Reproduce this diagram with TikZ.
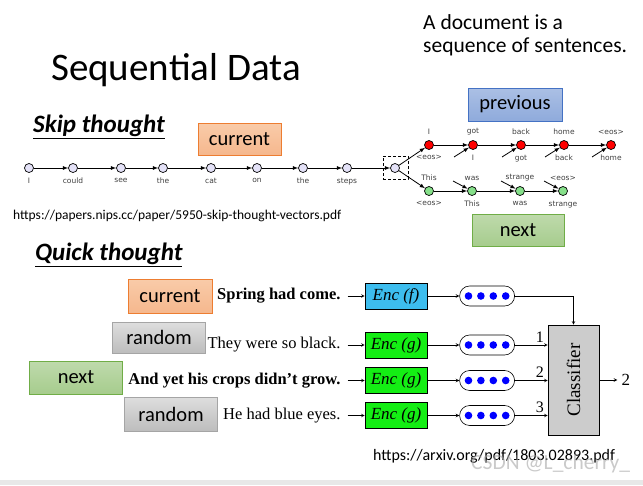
\documentclass[tikz,border=0pt]{standalone}
\usepackage{fontspec}
\setmainfont{Carlito}
\newfontfamily\timesfont{Liberation Serif}
\newfontfamily\dejafont{DejaVu Sans}
\usetikzlibrary{shapes.geometric, arrows, positioning}
\definecolor{morange}{HTML}{ED7D31}
\definecolor{mblue}{HTML}{4472C4}
\definecolor{mgreen}{HTML}{70AD47}
\definecolor{mgray}{HTML}{A5A5A5}
\definecolor{mlav}{HTML}{E4E2F8}
\definecolor{mlgreen}{HTML}{86E08A}
\definecolor{mcyan}{HTML}{3DBDEE}
\definecolor{menc}{HTML}{14EE14}
\tikzstyle{tag} = [rectangle, minimum width=93pt, minimum height=32pt, inner sep=0pt, text centered, line width=0.8pt, font=\fontsize{20.5}{24}\selectfont]
\tikzstyle{curtag} = [tag, minimum width=83pt, draw=morange, top color=orange!20!morange!40, bottom color=morange!55]
\tikzstyle{prevtag} = [tag, draw=mblue, top color=mblue!45, bottom color=mblue!60]
\tikzstyle{nexttag} = [tag, draw=mgreen, top color=mgreen!45, bottom color=mgreen!62]
\tikzstyle{randtag} = [tag, draw=mgray, top color=black!13, bottom color=black!26]
\tikzstyle{head} = [anchor=west, inner sep=0pt, font=\fontsize{25}{28}\selectfont\bfseries\itshape]
\tikzstyle{link} = [anchor=west, inner sep=0pt, font=\fontsize{13.5}{16}\selectfont]
\tikzstyle{wnode} = [circle, draw, line width=0.7pt, inner sep=0pt, minimum size=9pt, fill=mlav]
\tikzstyle{rnode} = [wnode, fill=red]
\tikzstyle{gnode} = [wnode, fill=mlgreen]
\tikzstyle{word} = [inner sep=0pt, text=black!75, font=\dejafont\fontsize{7.5}{9}\selectfont]
\tikzstyle{chain} = [thick, ->, >=latex]
\tikzstyle{sent} = [inner sep=0pt, inner xsep=7pt, font=\timesfont\fontsize{16.5}{19}\selectfont]
\tikzstyle{enc} = [rectangle, draw, line width=0.6pt, minimum width=62pt, minimum height=26pt, inner sep=0pt, font=\timesfont\itshape\fontsize{17}{20}\selectfont]
\tikzstyle{vec} = [rectangle, draw, rounded corners=10pt, line width=0.6pt, minimum width=55pt, minimum height=20pt]
\tikzstyle{wire} = [semithick, ->, >=stealth]
\begin{document}
\begin{tikzpicture}[x=1pt, y=-1pt, node distance=4pt]
  \useasboundingbox (0,0) rectangle (643,485);
  \fill[black!9] (0,480) rectangle (643,485);
  % titles
  \node (title) [anchor=base west, inner sep=0pt, font=\fontsize{39}{42}\selectfont] at (51,80) {Sequential Data};
  \node (doc) [anchor=north west, align=left, inner sep=0pt, font=\fontsize{21.5}{23}\selectfont] at (423,14) {A document is a\\sequence of sentences.};
  \node (skip) [head] at (33,127) {\underline{Skip thought}};
  \node (quick) [head] at (35,255) {\underline{Quick thought}};
  \node (url1) [link] at (13,216) {https://papers.nips.cc/paper/5950-skip-thought-vectors.pdf};
  \node (url2) [link, font=\fontsize{16}{18}\selectfont] at (373,456) {https://arxiv.org/pdf/1803.02893.pdf};
  % skip thought
  \node (cur1) [curtag] at (239.5,139) {current};
  \node (prev) [prevtag, minimum width=94pt, minimum height=33pt] at (515,104.5) {previous};
  \node (nxt1) [nexttag, minimum width=92pt] at (518,230) {next};
  \node (w1) [wnode] at (29,168) {};
  \node (w2) [wnode] at (73,168) {};
  \node (w3) [wnode] at (121,168) {};
  \node (w4) [wnode] at (163,168) {};
  \node (w5) [wnode] at (211,168) {};
  \node (w6) [wnode] at (257,168) {};
  \node (w7) [wnode] at (303,168) {};
  \node (w8) [wnode] at (347,168) {};
  \node (sbox) [draw, densely dashed, thick, minimum width=25pt, minimum height=23pt] at (395.5,167.5) {};
  \node (w9) [wnode] at (395,168) {};
  \node [word, below=5pt of w1] {I};
  \node [word, below=5pt of w2] {could};
  \node [word, below=5pt of w3] {see};
  \node [word, below=5pt of w4] {the};
  \node [word, below=5pt of w5] {cat};
  \node [word, below=5pt of w6] {on};
  \node [word, below=5pt of w7] {the};
  \node [word, below=5pt of w8] {steps};
  \draw [chain] (w1) -- (w2);
  \draw [chain] (w2) -- (w3);
  \draw [chain] (w3) -- (w4);
  \draw [chain] (w4) -- (w5);
  \draw [chain] (w5) -- (w6);
  \draw [chain] (w6) -- (w7);
  \draw [chain] (w7) -- (w8);
  \draw [chain] (w8) -- (w9);
  % previous sentence
  \node (r1) [rnode] at (429,145) {};
  \node (r2) [rnode] at (473,145) {};
  \node (r3) [rnode] at (521,145) {};
  \node (r4) [rnode] at (564,145) {};
  \node (r5) [rnode] at (611,145) {};
  \node [word, above=5pt of r1] {I};
  \node [word, above=5pt of r2] {got};
  \node [word, above=5pt of r3] {back};
  \node [word, above=5pt of r4] {home};
  \node [word, above=5pt of r5] {<eos>};
  \node [word, below=5pt of r1] {<eos>};
  \node [word, below=5pt of r2] {I};
  \node [word, below=5pt of r3] {got};
  \node [word, below=5pt of r4] {back};
  \node [word, below=5pt of r5] {home};
  \draw [chain] (w9) -- (r1);
  \draw [chain] (r1) -- (r2);
  \draw [chain] (r2) -- (r3);
  \draw [chain] (r3) -- (r4);
  \draw [chain] (r4) -- (r5);
  \draw [chain] ([shift={(-19,12)}]r2.center) -- (r2);
  \draw [chain] ([shift={(-19,12)}]r3.center) -- (r3);
  \draw [chain] ([shift={(-19,12)}]r4.center) -- (r4);
  \draw [chain] ([shift={(-19,12)}]r5.center) -- (r5);
  % next sentence
  \node (g1) [gnode] at (429,191) {};
  \node (g2) [gnode] at (472,191) {};
  \node (g3) [gnode] at (520,191) {};
  \node (g4) [gnode] at (563,191) {};
  \node [word, above=5pt of g1] {This};
  \node [word, above=5pt of g2] {was};
  \node [word, above=5pt of g3] {strange};
  \node [word, above=5pt of g4] {<eos>};
  \node [word, below=5pt of g1] {<eos>};
  \node [word, below=5pt of g2] {This};
  \node [word, below=5pt of g3] {was};
  \node [word, below=5pt of g4] {strange};
  \draw [chain] (w9) -- (g1);
  \draw [chain] (g1) -- (g2);
  \draw [chain] (g2) -- (g3);
  \draw [chain] (g3) -- (g4);
  \draw [chain] ([shift={(-19,-10)}]g2.center) -- (g2);
  \draw [chain] ([shift={(-19,-10)}]g3.center) -- (g3);
  \draw [chain] ([shift={(-19,-10)}]g4.center) -- (g4);
  % quick thought
  \node (cur2) [curtag, minimum width=84pt, minimum height=34pt] at (170,296) {current};
  \node (rnd1) [randtag, minimum height=31pt] at (159,337.5) {random};
  \node (nxt2) [nexttag, minimum height=33pt] at (76,377.5) {next};
  \node (rnd2) [randtag, minimum height=34pt] at (171,414) {random};
  \node (e1) [enc, fill=mcyan] at (396,296) {Enc (f)};
  \node (e2) [enc, fill=menc] at (396,345) {Enc (g)};
  \node (e3) [enc, fill=menc] at (396,380.5) {Enc (g)};
  \node (e4) [enc, fill=menc] at (396,415.5) {Enc (g)};
  \node (s1) [sent, left=17pt of e1] {\bfseries Spring had come.};
  \node (s2) [sent, left=17pt of e2] {They were so black.};
  \node (s3) [sent, left=17pt of e3] {\bfseries And yet his crops didn’t grow.};
  \node (s4) [sent, left=17pt of e4] {He had blue eyes.};
  \node (p1) [vec, right=32pt of e1] {};
  \node (p2) [vec, right=32pt of e2] {};
  \node (p3) [vec, right=32pt of e3] {};
  \node (p4) [vec, right=32pt of e4] {};
  \foreach \p in {p1,p2,p3,p4}
    \foreach \k in {-18.6,-6.2,6.2,18.6}
      \fill [blue] ([xshift=\k pt]\p.center) circle (3.8pt);
  \node (cls) [rectangle, draw, line width=0.6pt, fill=black!20, minimum width=51pt, minimum height=110pt] at (573.5,380) {};
  \node [rotate=90, font=\timesfont\fontsize{19}{22}\selectfont] at (cls.center) {Classifier};
  \node (out) [right=18pt of cls, inner sep=4pt, font=\timesfont\fontsize{17}{20}\selectfont] {2};
  \draw [wire] (s1) -- (e1);
  \draw [wire] (s2) -- (e2);
  \draw [wire] (s3) -- (e3);
  \draw [wire] (s4) -- (e4);
  \draw [wire] (e1) -- (p1);
  \draw [wire] (e2) -- (p2);
  \draw [wire] (e3) -- (p3);
  \draw [wire] (e4) -- (p4);
  \draw [wire] (p1) -| (cls.north);
  \draw [wire] (p2) -- node[pos=0.76, above=-1pt, font=\timesfont\fontsize{16}{18}\selectfont] {1} (p2 -| cls.west);
  \draw [wire] (p3) -- node[pos=0.76, above=-1pt, font=\timesfont\fontsize{16}{18}\selectfont] {2} (p3 -| cls.west);
  \draw [wire] (p4) -- node[pos=0.76, above=-1pt, font=\timesfont\fontsize{16}{18}\selectfont] {3} (p4 -| cls.west);
  \draw [wire] (cls) -- (out);
  % watermark
  \node (mark) [anchor=west, inner sep=0pt, text=black!35, opacity=0.6, font=\fontsize{21.5}{24}\selectfont] at (471,464) {CSDN @L\_cherry\_};
\end{tikzpicture}
\end{document}
